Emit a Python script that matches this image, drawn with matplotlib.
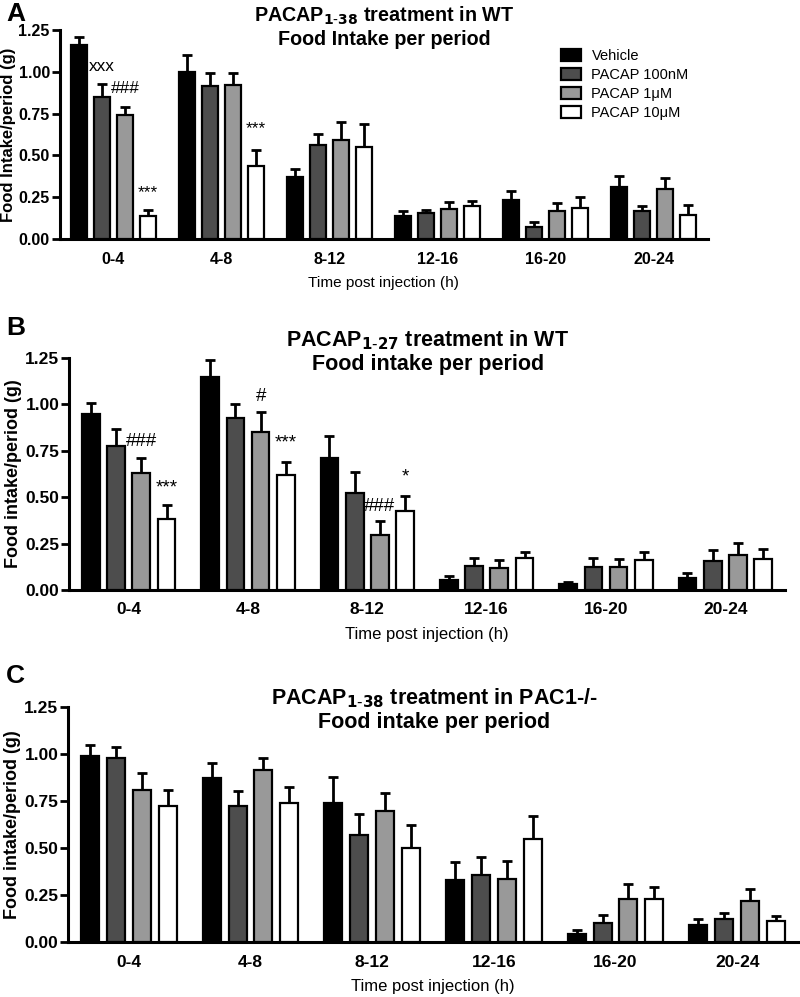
import matplotlib
matplotlib.use("Agg")
import matplotlib.pyplot as plt
import numpy as np

plt.rcParams['font.family'] = ['Liberation Sans', 'DejaVu Sans']

periods = ["0-4", "4-8", "8-12", "12-16", "16-20", "20-24"]
series = ["Vehicle", "PACAP 100nM", "PACAP 1\u03bcM", "PACAP 10\u03bcM"]
colors = ["#000000", "#4d4d4d", "#999999", "#ffffff"]

# Panel A: PACAP1-38 in WT
a_vehicle = [1.16, 1.00, 0.37, 0.14, 0.235, 0.31]
a_vehicle_err = [0.05, 0.10, 0.05, 0.025, 0.05, 0.065]
a_100nm = [0.85, 0.915, 0.565, 0.155, 0.07, 0.165]
a_100nm_err = [0.08, 0.08, 0.06, 0.02, 0.03, 0.035]
a_1um = [0.74, 0.92, 0.595, 0.18, 0.17, 0.30]
a_1um_err = [0.05, 0.07, 0.105, 0.04, 0.045, 0.065]
a_10um = [0.135, 0.435, 0.55, 0.20, 0.185, 0.145]
a_10um_err = [0.04, 0.10, 0.135, 0.03, 0.065, 0.06]

# Panel B: PACAP1-27 in WT
b_vehicle = [0.95, 1.15, 0.71, 0.055, 0.03, 0.067]
b_vehicle_err = [0.055, 0.09, 0.12, 0.02, 0.015, 0.025]
b_100nm = [0.775, 0.925, 0.525, 0.13, 0.125, 0.155]
b_100nm_err = [0.095, 0.075, 0.11, 0.04, 0.05, 0.06]
b_1um = [0.63, 0.85, 0.295, 0.12, 0.125, 0.19]
b_1um_err = [0.08, 0.11, 0.075, 0.04, 0.04, 0.065]
b_10um = [0.38, 0.62, 0.425, 0.17, 0.16, 0.165]
b_10um_err = [0.08, 0.07, 0.08, 0.035, 0.045, 0.055]

# Panel C: PACAP1-38 in PAC1-/-
c_vehicle = [0.99, 0.875, 0.74, 0.33, 0.04, 0.09]
c_vehicle_err = [0.06, 0.075, 0.14, 0.095, 0.025, 0.03]
c_100nm = [0.98, 0.725, 0.57, 0.355, 0.10, 0.125]
c_100nm_err = [0.055, 0.08, 0.11, 0.095, 0.045, 0.03]
c_1um = [0.81, 0.915, 0.695, 0.335, 0.23, 0.22]
c_1um_err = [0.09, 0.065, 0.10, 0.095, 0.08, 0.06]
c_10um = [0.725, 0.74, 0.50, 0.55, 0.23, 0.11]
c_10um_err = [0.085, 0.085, 0.125, 0.12, 0.065, 0.03]

# significance annotations: (period index, series index, label, y)
a_marks = [(0, 1, "xxx", 1.03), (0, 2, "###", 0.90), (0, 3, "***", 0.28), (1, 3, "***", 0.66)]
b_marks = [(0, 2, "###", 0.80), (0, 3, "***", 0.55), (1, 2, "#", 1.04), (1, 3, "***", 0.79),
           (2, 2, "###", 0.45), (2, 3, "*", 0.61)]
c_marks = []

W, H = 800, 997
fig = plt.figure(figsize=(W / 100, H / 100), dpi=100)


def ax_at(left, right, top, bottom):
    return fig.add_axes([left / W, 1 - bottom / H, (right - left) / W, (bottom - top) / H])


panels = [
    dict(box=(59.5, 707.5, 30, 239), data=[(a_vehicle, a_vehicle_err), (a_100nm, a_100nm_err), (a_1um, a_1um_err), (a_10um, a_10um_err)],
         marks=a_marks, ylabel="Food Intake/period (g)", title="PACAP$_{\\mathbf{1\\text{-}38}}$ treatment in WT\nFood Intake per period",
         title_xy=(384, 5), letter="A", letter_y=2, scale=0.92),
    dict(box=(69, 785, 358, 590), data=[(b_vehicle, b_vehicle_err), (b_100nm, b_100nm_err), (b_1um, b_1um_err), (b_10um, b_10um_err)],
         marks=b_marks, ylabel="Food intake/period (g)", title="PACAP$_{\\mathbf{1\\text{-}27}}$ treatment in WT\nFood intake per period",
         title_xy=(428, 328), letter="B", letter_y=316, scale=1.0),
    dict(box=(68, 798, 707, 942), data=[(c_vehicle, c_vehicle_err), (c_100nm, c_100nm_err), (c_1um, c_1um_err), (c_10um, c_10um_err)],
         marks=c_marks, ylabel="Food intake/period (g)", title="PACAP$_{\\mathbf{1\\text{-}38}}$ treatment in PAC1-/-\nFood intake per period",
         title_xy=(434, 686), letter="C", letter_y=664, scale=1.0),
]

x = np.arange(len(periods))
pitch = 0.212
bw = 0.148
offsets = [(-1.5 + i) * pitch for i in range(4)]

for p in panels:
    s = p["scale"]
    ax = ax_at(*p["box"])
    for i, (vals, errs) in enumerate(p["data"]):
        ax.bar(x + offsets[i], vals, width=bw, color=colors[i], edgecolor="black", linewidth=1.6,
               label=series[i], zorder=3)
        ax.errorbar(x + offsets[i], vals, yerr=[np.zeros(len(vals)), errs], fmt="none", ecolor="black",
                    elinewidth=2.0, capsize=3.4, capthick=2.0, zorder=2)
    for (gi, si, txt, yy) in p["marks"]:
        ax.text(gi + offsets[si], yy, txt, ha="center", va="center", fontsize=13.5 * s, color="black")
    ax.set_xlim(-0.5, len(periods) - 0.5)
    ax.set_ylim(0, 1.25)
    ax.set_yticks([0, 0.25, 0.5, 0.75, 1.0, 1.25])
    ax.set_yticklabels(["%.2f" % v for v in [0, 0.25, 0.5, 0.75, 1.0, 1.25]], fontweight="bold", fontsize=12.5 * s)
    ax.set_xticks(x)
    ax.set_xticklabels(periods, fontweight="bold", fontsize=12.5 * s)
    ax.tick_params(axis="x", length=0, pad=9)
    ax.tick_params(axis="y", length=6, width=2, pad=1)
    for sp in ["top", "right"]:
        ax.spines[sp].set_visible(False)
    for sp in ["left", "bottom"]:
        ax.spines[sp].set_linewidth(2.2)
    ax.set_ylabel(p["ylabel"], fontweight="bold", fontsize=13 * s, labelpad=2)
    ax.set_xlabel("Time post injection (h)", fontsize=12 * s, labelpad=7)
    tx, ty = p["title_xy"]
    fig.text(tx / W, 1 - ty / H, p["title"], ha="center", va="top", fontweight="bold",
             fontsize=15.5 * s, linespacing=1.15)
    fig.text(6 / W, 1 - p["letter_y"] / H, p["letter"], ha="left", va="top", fontweight="bold", fontsize=19)
    if p["letter"] == "A":
        ax.legend(loc="upper left", bbox_to_anchor=(555 / W, 1 - 43 / H), bbox_transform=fig.transFigure,
                  frameon=False, fontsize=10.5, handlelength=1.4, handleheight=0.85, labelspacing=0.35,
                  handletextpad=0.7, borderaxespad=0)

fig.savefig("out.png", dpi=100)
